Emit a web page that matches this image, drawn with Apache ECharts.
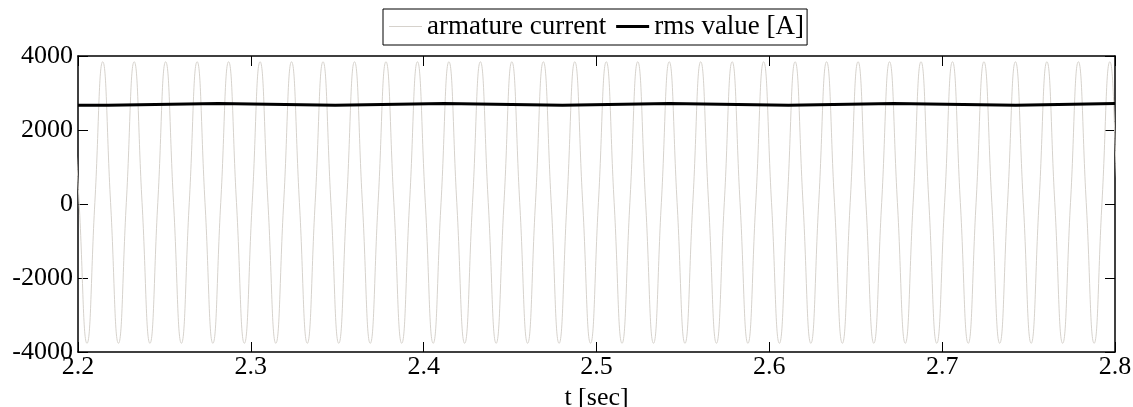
<!DOCTYPE html>
<html>
<head>
<meta charset="utf-8">
<script src="https://cdn.jsdelivr.net/npm/echarts@6/dist/echarts.min.js"></script>
<style>
html,body{margin:0;padding:0;background:#fff;}
#chart{width:1133px;height:407px;}
</style>
</head>
<body>
<div id="chart"></div>
<script>
// x tick values (seconds) and y tick values
const xTicks = [2.2, 2.3, 2.4, 2.5, 2.6, 2.7, 2.8];
const yTicks = [-4000, -2000, 0, 2000, 4000];

// armature current: peaks, zero crossings and troughs [t, A]
const armatureCurrent = [
  [2.19609,3845],[2.20064,40],[2.20520,-3765],[2.20975,40],
  [2.21430,3845],[2.21885,40],[2.22341,-3765],[2.22796,40],
  [2.23251,3845],[2.23706,40],[2.24162,-3765],[2.24617,40],
  [2.25072,3845],[2.25527,40],[2.25983,-3765],[2.26438,40],
  [2.26893,3845],[2.27348,40],[2.27804,-3765],[2.28259,40],
  [2.28714,3845],[2.29169,40],[2.29625,-3765],[2.30080,40],
  [2.30535,3845],[2.30990,40],[2.31446,-3765],[2.31901,40],
  [2.32356,3845],[2.32811,40],[2.33267,-3765],[2.33722,40],
  [2.34177,3845],[2.34632,40],[2.35088,-3765],[2.35543,40],
  [2.35998,3845],[2.36453,40],[2.36909,-3765],[2.37364,40],
  [2.37819,3845],[2.38274,40],[2.38730,-3765],[2.39185,40],
  [2.39640,3845],[2.40095,40],[2.40551,-3765],[2.41006,40],
  [2.41461,3845],[2.41916,40],[2.42372,-3765],[2.42827,40],
  [2.43282,3845],[2.43737,40],[2.44193,-3765],[2.44648,40],
  [2.45103,3845],[2.45558,40],[2.46014,-3765],[2.46469,40],
  [2.46924,3845],[2.47379,40],[2.47835,-3765],[2.48290,40],
  [2.48745,3845],[2.49200,40],[2.49656,-3765],[2.50111,40],
  [2.50566,3845],[2.51021,40],[2.51477,-3765],[2.51932,40],
  [2.52387,3845],[2.52842,40],[2.53298,-3765],[2.53753,40],
  [2.54208,3845],[2.54663,40],[2.55119,-3765],[2.55574,40],
  [2.56029,3845],[2.56484,40],[2.56940,-3765],[2.57395,40],
  [2.57850,3845],[2.58305,40],[2.58761,-3765],[2.59216,40],
  [2.59671,3845],[2.60126,40],[2.60582,-3765],[2.61037,40],
  [2.61492,3845],[2.61947,40],[2.62403,-3765],[2.62858,40],
  [2.63313,3845],[2.63768,40],[2.64224,-3765],[2.64679,40],
  [2.65134,3845],[2.65589,40],[2.66045,-3765],[2.66500,40],
  [2.66955,3845],[2.67410,40],[2.67866,-3765],[2.68321,40],
  [2.68776,3845],[2.69231,40],[2.69687,-3765],[2.70142,40],
  [2.70597,3845],[2.71052,40],[2.71508,-3765],[2.71963,40],
  [2.72418,3845],[2.72873,40],[2.73329,-3765],[2.73784,40],
  [2.74239,3845],[2.74694,40],[2.75150,-3765],[2.75605,40],
  [2.76060,3845],[2.76515,40],[2.76971,-3765],[2.77426,40],
  [2.77881,3845],[2.78336,40],[2.78792,-3765],[2.79247,40],
  [2.79702,3845],[2.80157,40],[2.80613,-3765]
];

// rms value: step change times and levels (level i holds from rmsTimes[i] to rmsTimes[i+1])
const rmsTimes  = [2.2, 2.2174, 2.2811, 2.3488, 2.4119, 2.4803, 2.5422, 2.6111, 2.6719, 2.7426, 2.8];
const rmsValues = [2670, 2715, 2670, 2715, 2670, 2715, 2670, 2715, 2670, 2715];

const seriesNames = ['armature current', 'rms value [A]'];
const currentColor = '#d6d2cc';
const rmsColor = '#000000';

const FONT = 'Liberation Serif';
// staircase built from the rms arrays
const rmsData = [];
rmsValues.forEach((v, i) => {
  rmsData.push([rmsTimes[i], v]);
  rmsData.push([rmsTimes[i + 1], v]);
});

const chart = echarts.init(document.getElementById('chart'), null, {renderer: 'canvas'});
const tickStyle = {show: true, inside: true, length: 10, lineStyle: {color: '#000', width: 1}};
const lineStyle = {show: true, onZero: false, lineStyle: {color: '#000', width: 1.5}};

chart.setOption({
  animation: false,
  backgroundColor: '#fff',
  grid: {left: 78, right: 18, top: 56, bottom: 55, containLabel: false, outerBoundsMode: 'none'},
  legend: {
    data: [
      {name: seriesNames[0], icon: 'path://M0,0H33V1H0Z', itemStyle: {color: currentColor}},
      {name: seriesNames[1], icon: 'path://M0,0H31V3H0Z', itemStyle: {color: rmsColor}}
    ],
    top: 9,
    left: 383,
    padding: [4, 3, 5, 6],
    itemGap: 10,
    itemWidth: 33,
    itemHeight: 14,
    borderColor: '#000',
    borderWidth: 1,
    borderRadius: 0,
    textStyle: {fontFamily: FONT, fontSize: 27, color: '#000'}
  },
  xAxis: [{
    type: 'value',
    min: xTicks[0],
    max: xTicks[xTicks.length - 1],
    interval: 0.1,
    axisLine: lineStyle,
    axisTick: tickStyle,
    splitLine: {show: false},
    axisLabel: {fontFamily: FONT, fontSize: 26, color: '#000', margin: 2,
      formatter: v => (Math.round(v * 10) / 10).toFixed(1)},
    name: 't [sec]',
    nameLocation: 'middle',
    nameGap: 31,
    nameTextStyle: {fontFamily: FONT, fontSize: 26, color: '#000'}
  }, {
    type: 'value',
    position: 'top',
    min: xTicks[0],
    max: xTicks[xTicks.length - 1],
    interval: 0.1,
    axisLine: lineStyle,
    axisTick: tickStyle,
    axisLabel: {show: false},
    splitLine: {show: false}
  }],
  yAxis: [{
    type: 'value',
    min: yTicks[0],
    max: yTicks[yTicks.length - 1],
    interval: 2000,
    axisLine: lineStyle,
    axisTick: tickStyle,
    splitLine: {show: false},
    axisLabel: {fontFamily: FONT, fontSize: 26, color: '#000', margin: 5,
      formatter: v => String(v)}
  }, {
    type: 'value',
    position: 'right',
    min: yTicks[0],
    max: yTicks[yTicks.length - 1],
    interval: 2000,
    axisLine: lineStyle,
    axisTick: tickStyle,
    axisLabel: {show: false},
    splitLine: {show: false}
  }],
  series: [{
    name: seriesNames[0],
    type: 'line',
    data: armatureCurrent,
    smooth: 0.5,
    symbol: 'none',
    clip: true,
    lineStyle: {color: currentColor, width: 1},
    itemStyle: {color: currentColor},
    z: 2
  }, {
    name: seriesNames[1],
    type: 'line',
    data: rmsData,
    symbol: 'none',
    clip: true,
    lineStyle: {color: rmsColor, width: 3},
    itemStyle: {color: rmsColor},
    z: 3
  }]
});
</script>
</body>
</html>
